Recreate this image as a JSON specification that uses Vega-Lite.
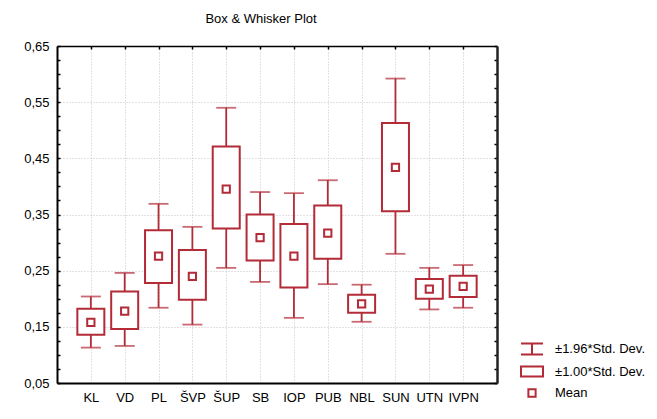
{
  "$schema": "https://vega.github.io/schema/vega-lite/v6.json",
  "width": 440,
  "height": 337,
  "autosize": {"type": "none"},
  "padding": {"left": 57, "top": 46, "right": 160, "bottom": 36},
  "background": "white",
  "title": {"text": "Box & Whisker Plot", "fontSize": 13, "font": "Liberation Sans", "fontWeight": "normal", "color": "black", "anchor": "middle", "dx": -16, "offset": 14},
  "config": {
    "view": {"stroke": null},
    "font": "Liberation Sans",
    "axis": {"labelFont": "Liberation Sans", "labelFontSize": 13, "labelColor": "black", "title": null}
  },
  "data": {
    "values": [
      {"cat": "KL", "lo196": 0.113, "lo1": 0.136, "mean": 0.158, "hi1": 0.182, "hi196": 0.204},
      {"cat": "VD", "lo196": 0.116, "lo1": 0.146, "mean": 0.178, "hi1": 0.213, "hi196": 0.246},
      {"cat": "PL", "lo196": 0.184, "lo1": 0.228, "mean": 0.276, "hi1": 0.322, "hi196": 0.369},
      {"cat": "ŠVP", "lo196": 0.154, "lo1": 0.198, "mean": 0.240, "hi1": 0.287, "hi196": 0.328},
      {"cat": "ŠUP", "lo196": 0.255, "lo1": 0.325, "mean": 0.395, "hi1": 0.471, "hi196": 0.540},
      {"cat": "SB", "lo196": 0.230, "lo1": 0.268, "mean": 0.309, "hi1": 0.350, "hi196": 0.390},
      {"cat": "IOP", "lo196": 0.166, "lo1": 0.220, "mean": 0.276, "hi1": 0.333, "hi196": 0.388},
      {"cat": "PUB", "lo196": 0.226, "lo1": 0.271, "mean": 0.317, "hi1": 0.366, "hi196": 0.411},
      {"cat": "NBL", "lo196": 0.159, "lo1": 0.175, "mean": 0.191, "hi1": 0.207, "hi196": 0.225},
      {"cat": "SUN", "lo196": 0.280, "lo1": 0.356, "mean": 0.434, "hi1": 0.513, "hi196": 0.592},
      {"cat": "UTN", "lo196": 0.181, "lo1": 0.200, "mean": 0.217, "hi1": 0.235, "hi196": 0.255},
      {"cat": "IVPN", "lo196": 0.184, "lo1": 0.203, "mean": 0.222, "hi1": 0.241, "hi196": 0.260}
    ]
  },
  "resolve": {"axis": {"x": "independent", "y": "independent"}},
  "layer": [
    {
      "mark": {"type": "rule", "color": "#b22b37", "strokeWidth": 1.8},
      "encoding": {
        "x": {"field": "cat", "type": "nominal", "sort": null, "scale": {"type": "point", "padding": 1},
          "axis": {"orient": "bottom", "labelAngle": 0, "ticks": false, "labelPadding": 8, "domain": true, "domainColor": "black", "domainWidth": 2,
            "grid": true, "gridColor": "#c4c4c4", "gridDash": [1, 2], "gridWidth": 1}},
        "y": {"field": "lo196", "type": "quantitative", "scale": {"domain": [0.05, 0.65], "nice": false, "zero": false},
          "axis": {"orient": "left", "values": [0.05, 0.15, 0.25, 0.35, 0.45, 0.55, 0.65], "labelExpr": "replace(format(datum.value, '.2f'), '.', ',')",
            "ticks": false, "labelPadding": 8, "domain": true, "domainColor": "black", "domainWidth": 2, "grid": false}},
        "y2": {"field": "hi196"}
      }
    },
    {
      "mark": {"type": "tick", "color": "#b22b37", "size": 20, "thickness": 1.8},
      "encoding": {
        "x": {"field": "cat", "type": "nominal", "sort": null,
          "axis": {"orient": "top", "labels": false, "ticks": true, "tickSize": -3, "tickColor": "black", "tickWidth": 1.5, "domain": true, "domainColor": "black", "domainWidth": 1.5, "grid": false}},
        "y": {"field": "hi196", "type": "quantitative",
          "axis": {"orient": "left", "values": [0.15, 0.25, 0.35, 0.45, 0.55], "labels": false, "ticks": false, "domain": false,
            "grid": true, "gridColor": "#c4c4c4", "gridDash": [1, 2], "gridWidth": 1}}
      }
    },
    {
      "mark": {"type": "tick", "color": "#b22b37", "size": 20, "thickness": 1.8},
      "encoding": {
        "x": {"field": "cat", "type": "nominal", "sort": null, "axis": null},
        "y": {"field": "lo196", "type": "quantitative",
          "axis": {"orient": "right", "values": [0.05, 0.075, 0.1, 0.125, 0.15, 0.175, 0.2, 0.225, 0.25, 0.275, 0.3, 0.325, 0.35, 0.375, 0.4, 0.425, 0.45, 0.475, 0.5, 0.525, 0.55, 0.575, 0.6, 0.625, 0.65],
            "labels": false, "ticks": true, "tickSize": -3, "tickColor": "black", "tickWidth": 1.5, "domain": true, "domainColor": "#222", "domainWidth": 2.5, "grid": false}}
      }
    },
    {
      "mark": {"type": "bar", "fill": "white", "stroke": "#b22b37", "strokeWidth": 2, "size": 27},
      "encoding": {
        "x": {"field": "cat", "type": "nominal", "sort": null, "axis": null},
        "y": {"field": "lo1", "type": "quantitative",
          "axis": {"orient": "left", "values": [0.05, 0.075, 0.1, 0.125, 0.15, 0.175, 0.2, 0.225, 0.25, 0.275, 0.3, 0.325, 0.35, 0.375, 0.4, 0.425, 0.45, 0.475, 0.5, 0.525, 0.55, 0.575, 0.6, 0.625, 0.65],
            "labels": false, "ticks": true, "tickSize": -3, "tickColor": "black", "tickWidth": 1.5, "domain": false, "grid": false}},
        "y2": {"field": "hi1"}
      }
    },
    {
      "mark": {"type": "point", "filled": false, "color": "#b22b37", "strokeWidth": 2, "size": 484, "opacity": 1},
      "encoding": {
        "x": {"field": "cat", "type": "nominal", "sort": null, "axis": null},
        "y": {"field": "mean", "type": "quantitative", "axis": null},
        "shape": {"datum": "Mean",
          "scale": {"domain": ["±1.96*Std. Dev.", "±1.00*Std. Dev.", "Mean"],
            "range": ["M-1,-0.5H1M0,-0.5V0.5M-1,0.5H1", "M-1,-0.45H1V0.45H-1Z", "M-0.33,-0.33H0.33V0.33H-0.33Z"]},
          "legend": {"title": null, "orient": "none", "legendX": 463, "legendY": 291, "padding": 0, "rowPadding": 0.5,
            "symbolSize": 484, "symbolStrokeColor": "#b22b37", "symbolStrokeWidth": 2, "symbolFillColor": "transparent", "symbolOpacity": 1,
            "labelFont": "Liberation Sans", "labelFontSize": 13, "labelColor": "black", "labelOffset": 11}}
      }
    }
  ]
}
